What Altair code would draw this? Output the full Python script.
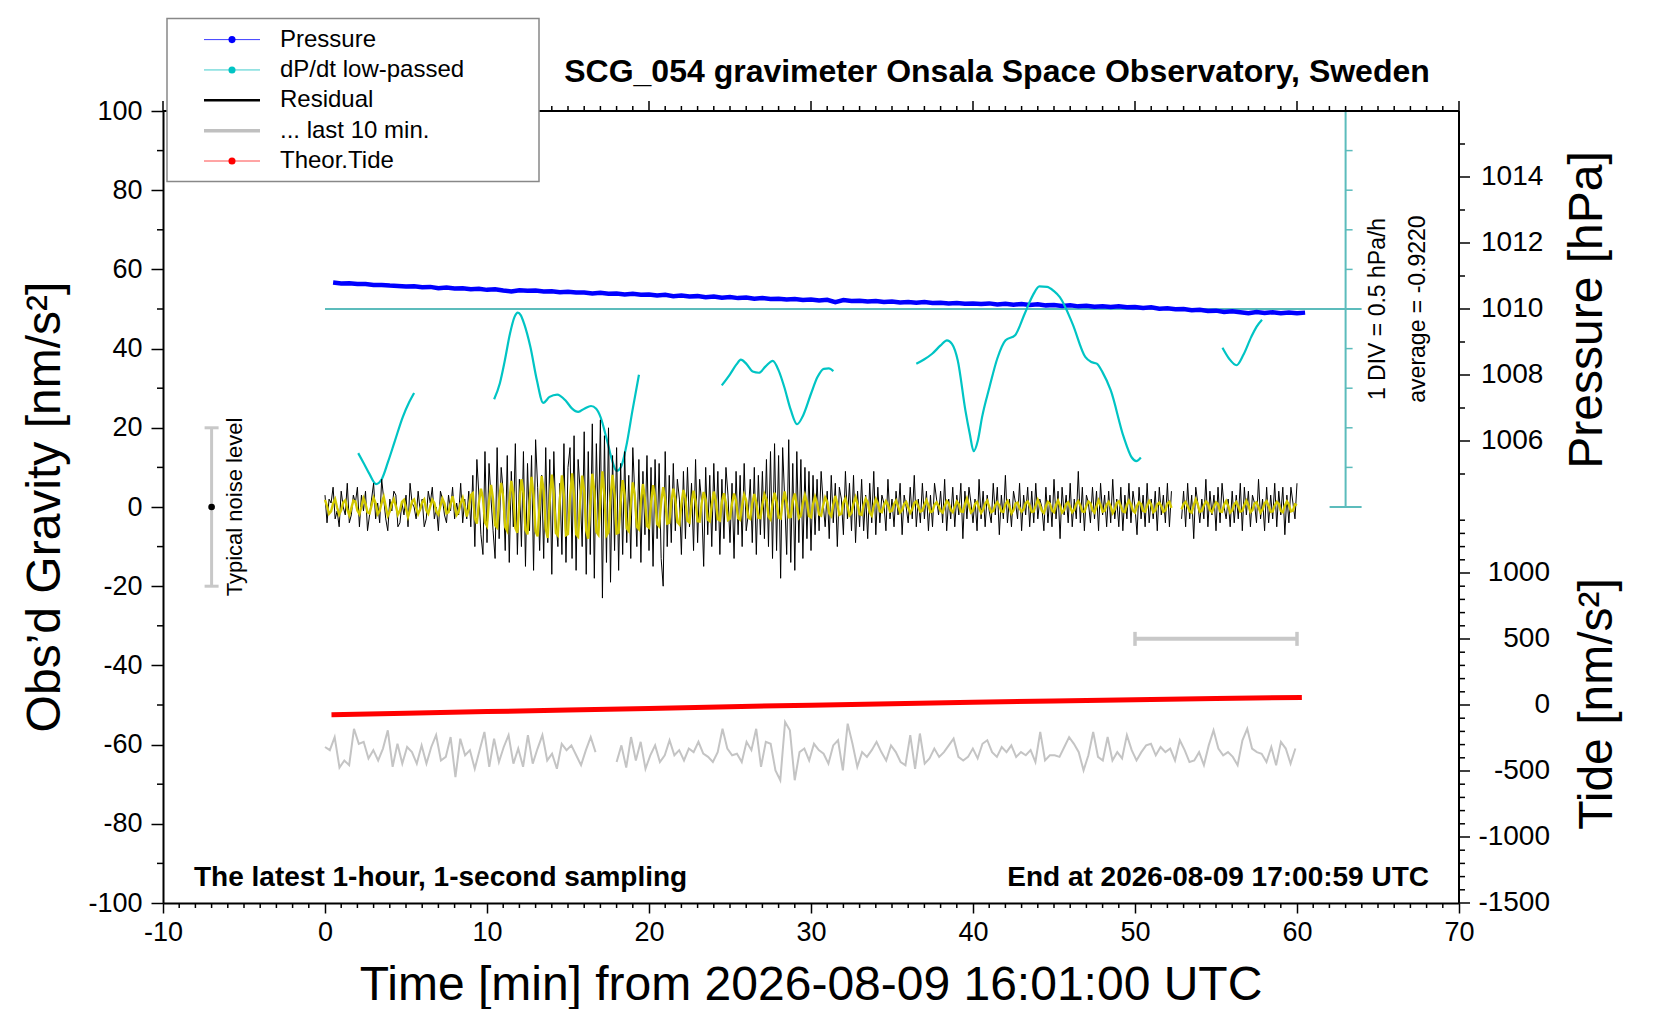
import altair as alt
import numpy as np
import pandas as pd

FONT = "Liberation Sans"
W, H = 1296, 792  # plot area

# ---- values ----
# residual gravity (nm/s^2), one value every 0.125 min from 0 to 60 min (None = gap)
resid = [
    3, -4, 2, 1, 5, -3, -1, -5, 4, 0, -2, 6, -4, -2, 3, 1, 5, -5, 3, -1, 4, -6, -2, 2,
    6, -3, 1, -4, 7, 2, -3, -6, 2, -1, 4, 3, -5, -4, 1, -2, 3, -5, 6, 1, 0, -3, 4, -1,
    2, -5, -3, 4, 1, 5, -3, 0, -6, 4, 2, -2, -4, 3, -1, 5, -3, 1, -2, 6, -4, 2, -3, 4, -5,
    8, -10, 12, 3, -7, -12, 14, -9, 11, 2, -6, -13, 15, -8, 10, 4, -11, 13, -14, 9, -5, 16, -12, 7,
    -10, 14, -15, 11, -6, 13, -16, 17, 5, -11, 8, -13, 15, -9, 12, -17, 14, -3, -10, 6, -12, 16, -14, 10,
    15, -13, 18, -16, 12, 4, -10, 19, -17, 14, -12, 21, -18, 16, -6, 22, -23, 18, -14, 20, -19, 13, -11, 15,
    -16, 11, -12, 14, -9, 8, -13, 15, 3, -10, 12, -14, 9, -7, 13, -11, 10, -15, 12, -8, 11, -13, -20, 14,
    -10, 8, -9, 11, -6, 7, 2, -12, 9, -8, 10, -5, 6, -11, 12, -9, 7, 1, -15, 10, -7, 8, -10, 11,
    -6, 9, -12, 7, -8, 10, 3, -9, 6, -13, 9, -7, 8, -10, 11, -6, -2, 7, -9, 10, -12, 8, -7, 9,
    -8, 12, -10, 14, -13, 16, -11, 13, -18, 15, 2, -12, 17, -14, 11, -16, 14, -9, 12, -13, 10, -8, 9, -11,
    8, -7, 7, -6, 9, 1, -5, 4, -8, 8, -4, 6, -10, 5, 2, -7, 9, -3, 6, -6, 8, -9, 4, -5, 7, -6, 3, -8, 6, -4, 9, -7,
    5, -4, 3, 1, -6, 7, -3, 2, -5, 4, -2, 6, -7, 3, 0, -4, 5, -3, 8, -5, 2, -4, 6, -3,
    4, -6, 3, -5, 6, 2, -2, 4, -4, 7, -6, 2, -3, 5, -5, 3, -2, 6, -8, 4, -3, 5, 1, -4,
    2, -6, 7, -3, 4, -5, 3, -1, -4, 6, -2, 5, -7, 3, -3, 8, -4, 2, -5, 4, 1, -3, 6, -6,
    3, -2, 5, -5, 4, -4, 6, -3, 2, 0, -6, 5, -4, 3, -5, 7, -3, 4, -8, 5, -2, 3, -4, 6,
    -5, 2, -3, 9, -4, 5, -6, 3, 1, -4, 5, -3, 4, -6, 6, -2, 3, -5, 4, -4, 7, -3, 2, -5,
    5, -6, 3, -3, 6, -4, 4, 0, -7, 5, -3, 3, -5, 6, -4, 2, -3, 4, -6, 5, -2, 3, -4, 6, -5, 4,
    None, None, None, None,
    -3, 4, -5, 6, -3, 3, -8, 5, 1, -4, 2, -3, 7, -5, 4, -2, 3, -6, 5, -4, 6, 0, -3, 2,
    -5, 4, -4, 3, -3, 6, -6, 5, -2, 4, -5, 3, 1, -4, 7, -3, 2, -6, 5, -4, 3, -3, 6, -5,
    4, -2, 5, -7, 3, -4, 5, 1, -3, 6,
]
# band-passed residual (yellow), same sampling
resid_bp = [
    1.8, 0.2, -1.7, -1.1, 0.9, 2.0, -0.2, -1.9, -0.8, 1.2, 1.7, -0.6, -2.1, -0.3, 1.6, 1.4, -0.9, -1.8, 0.1, 2.2, 0.8, -1.3, -1.6, 0.4,
    2.3, 0.9, -1.8, -1.0, 1.1, 2.6, 0.1, -2.2, -1.1, 0.9, 2.0, 0.2, -1.9, -0.9, 1.3, 1.8, -0.4, -2.5, -0.7, 1.4, 1.9, -0.2, -1.8, -0.6,
    1.2, 1.9, -0.8, -1.7, 0.2, 1.8, 1.0, -1.2, -1.9, 0.3, 2.1, 0.9, -1.6, -1.3, 0.8, 2.7, 0.4, -2.0, -1.2, 1.0, 2.3, 0.1, -2.4, -0.5, 3.0,
    3.5, -2.8, -4.2, 1.0, 4.6, 2.2, -3.9, -4.8, 1.5, 5.6, 2.0, -4.6, -5.2, 1.9, 6.1, 2.5, -5.0, -6.0, 1.2, 6.6, 3.4, -5.3, -6.5, 0.8,
    7.0, 3.5, -5.8, -6.9, 1.5, 7.6, 3.0, -6.2, -7.4, 0.9, 7.8, 4.1, -5.5, -7.8, 1.7, 8.2, 3.3, -6.6, -7.2, 2.0, 8.0, 2.8, -7.1, -6.8,
    2.4, 8.5, 2.6, -6.9, -7.5, 1.3, 7.9, 3.9, -6.0, -8.0, 0.6, 8.4, 4.0, -6.3, -7.0, 1.8, 9.0, 2.9, -7.2, -6.4, 2.5, 8.1, 3.1, -6.7,
    -6.5, 1.2, 6.8, 3.0, -5.4, -6.1, 0.8, 6.2, 2.7, -5.0, -5.6, 1.4, 5.8, 2.1, -4.8, -5.2, 0.9, 5.5, 2.4, -4.3, -4.9, 1.1, 5.0, 1.8,
    -4.2, -4.0, 1.3, 4.6, 1.9, -3.8, -4.4, 0.7, 4.3, 2.2, -3.5, -3.9, 1.0, 4.1, 1.5, -3.6, -3.7, 0.9, 3.8, 1.8, -3.2, -3.6, 0.5, 3.9,
    1.6, -3.1, -3.4, 1.2, 3.5, 1.0, -3.3, -2.9, 0.8, 3.4, 1.5, -2.8, -3.2, 0.4, 3.1, 1.7, -2.6, -3.0, 0.9, 3.3, 1.1, -2.7, -2.8, 0.6,
    3.2, 1.9, -2.4, -3.1, 0.8, 3.6, 1.4, -2.7, -2.9, 1.2, 3.9, 0.9, -2.6, -2.5, 1.5, 3.4, 0.3, -2.8, -2.2, 1.0, 3.0, 1.2, -2.3, -2.6,
    0.7, 2.6, 1.0, -1.9, -2.2, 0.4, 2.4, 1.3, -1.6, -2.3, 0.6, 2.8, 0.8, -2.0, -1.7, 1.1, 2.2, 0.2, -2.1, -1.5, 0.9, 2.5, 0.7, -1.8, -2.0, 0.5, 2.1, 1.2, -1.4, -2.2, 0.3, 2.0,
    0.9, -1.1, -1.3, 0.4, 1.5, 0.6, -1.2, -1.0, 0.7, 1.6, 0.2, -1.4, -0.8, 0.8, 1.3, -0.1, -1.5, -0.6, 1.0, 1.4, 0.1, -1.2, -0.9, 0.5,
    1.7, 0.4, -1.3, -1.1, 0.6, 1.2, 0.3, -1.0, -1.4, 0.2, 1.5, 0.9, -0.8, -1.3, 0.1, 1.4, 0.7, -1.1, -1.2, 0.6, 2.1, 0.5, -1.4, -0.9,
    0.8, 1.3, -0.2, -1.5, -0.7, 0.9, 1.6, 0.1, -1.3, -1.0, 0.5, 1.2, 0.4, -1.1, -1.2, 0.7, 1.5, 0.2, -1.6, -0.8, 0.9, 1.1, -0.3, -1.2,
    -0.6, 1.0, 1.4, 0.3, -1.2, -1.1, 0.4, 1.8, 0.6, -1.0, -1.5, 0.2, 1.3, 0.8, -0.9, -1.3, 0.5, 1.6, 0.3, -1.4, -0.8, 0.7, 1.2, -0.1,
    -1.3, -0.7, 0.8, 1.5, 0.4, -1.1, -1.2, 0.3, 1.4, 0.9, -0.8, -1.4, 0.2, 1.7, 0.5, -1.2, -1.0, 0.6, 1.3, 0.1, -1.5, -0.6, 1.0, 1.4,
    0.2, -1.1, -1.3, 0.5, 1.6, 0.7, -0.9, -1.4, 0.3, 1.2, 0.8, -1.0, -1.2, 0.4, 1.5, 0.6, -1.3, -0.9, 0.7, 1.1, 0.2, -1.2, -0.8, 0.9, 1.3, -0.2,
    None, None, None, None,
    -0.6, 0.8, 1.3, 0.2, -1.1, -1.4, 0.5, 1.9, 0.6, -1.2, -1.0, 0.4, 1.4, 0.9, -0.8, -1.3, 0.1, 1.2, 0.7, -1.1, -1.2, 0.6, 1.5, 0.3, -1.4,
    -0.9, 0.7, 1.3, 0.2, -1.2, -1.0, 0.5, 1.6, 0.4, -1.3, -0.8, 0.9, 1.2, -0.1, -1.4, -0.6, 1.0, 1.5, 0.2, -1.2, -1.1, 0.4, 1.3, 0.8,
    -1.0, -1.3, 0.3, 1.4, 0.6, -1.1, -0.9, 0.7, 0.5,
]
SAMPLE_MIN = 0.125

# "... last 10 min." trace, stretched over the hour (plot units)
last10_a = [
    -60.6, -61.4, -58.1, -65.8, -64.0, -65.2, -56.0, -59.8, -59.3, -63.5,
    -61.4, -64.0, -61.0, -56.4, -65.6, -59.8, -64.8, -60.6, -61.9, -64.8,
    -60.2, -64.8, -60.6, -57.6, -64.0, -63.1, -58.1, -68.2, -58.5, -62.7,
    -61.4, -66.1, -61.4, -56.8, -65.6, -58.5, -64.4, -60.6, -57.6, -64.8,
    -61.0, -65.6, -57.6, -64.8, -61.0, -57.6, -64.0, -62.3, -66.1, -59.8,
    -61.4, -60.2, -62.7, -65.2, -61.4, -58.1, -61.9,
]
last10_b = [
    -64.4, -60.2, -65.8, -58.1, -64.0, -59.3, -66.1, -62.7, -60.2, -64.4,
    -62.7, -58.9, -62.7, -61.4, -64.0, -61.0, -61.9, -59.3, -62.3, -63.1,
    -64.4, -61.9, -56.0, -61.0, -62.7, -62.3, -64.4, -59.3, -61.4, -56.0,
    -65.6, -59.3, -59.8, -66.5, -69.0, -54.3, -56.4, -69.0, -61.9, -61.0,
    -64.0, -59.8, -61.4, -62.3, -64.8, -60.2, -58.9, -66.5, -54.7, -59.8,
    -65.6, -61.9, -63.1, -61.4, -59.3, -61.9, -64.0, -60.2, -61.9, -64.4,
    -65.2, -57.6, -66.1, -57.2, -64.8, -63.5, -61.0, -63.1, -61.9, -60.2,
    -58.5, -63.1, -64.0, -63.1, -61.0, -63.5, -59.8, -58.9, -61.9, -63.1,
    -60.6, -61.9, -60.2, -63.1, -61.9, -62.7, -61.4, -64.4, -56.8, -64.0,
    -62.7, -62.7, -63.1, -60.6, -58.1, -59.8, -61.9, -66.5, -62.7, -56.8,
    -63.1, -64.0, -58.1, -64.0, -61.9, -63.5, -57.6, -61.4, -64.0, -61.9,
    -60.2, -59.8, -62.7, -60.6, -61.9, -61.0, -64.0, -58.9, -61.4, -64.4,
    -64.0, -61.9, -65.2, -60.2, -56.4, -61.0, -62.7, -61.9, -63.1, -65.2,
    -58.9, -56.0, -61.0, -61.9, -62.3, -64.4, -60.6, -65.2, -59.3, -61.0,
    -64.8, -61.0,
]
last10_span_a = [0.0, 16.7]
last10_span_b = [18.0, 59.9]

# air pressure (hPa), every 0.5 min from 0.5 min
pressure = [
    1010.80, 1010.77, 1010.78, 1010.76, 1010.76, 1010.73, 1010.73, 1010.71, 1010.70, 1010.68,
    1010.69, 1010.66, 1010.67, 1010.63, 1010.65, 1010.62, 1010.63, 1010.60, 1010.61, 1010.58,
    1010.60, 1010.56, 1010.53, 1010.57, 1010.55, 1010.56, 1010.53, 1010.54, 1010.51, 1010.52,
    1010.50, 1010.50, 1010.47, 1010.49, 1010.46, 1010.47, 1010.44, 1010.46, 1010.43, 1010.44,
    1010.41, 1010.43, 1010.39, 1010.41, 1010.38, 1010.39, 1010.36, 1010.38, 1010.34, 1010.36,
    1010.33, 1010.35, 1010.31, 1010.33, 1010.30, 1010.31, 1010.29, 1010.30, 1010.27, 1010.29,
    1010.26, 1010.28, 1010.21, 1010.27, 1010.24, 1010.25, 1010.23, 1010.24, 1010.21, 1010.23,
    1010.20, 1010.21, 1010.19, 1010.21, 1010.18, 1010.19, 1010.17, 1010.18, 1010.16, 1010.17,
    1010.15, 1010.17, 1010.14, 1010.16, 1010.13, 1010.15, 1010.12, 1010.14, 1010.11, 1010.12,
    1010.09, 1010.11, 1010.08, 1010.10, 1010.07, 1010.08, 1010.06, 1010.08, 1010.05, 1010.06,
    1010.03, 1010.05, 1010.01, 1010.02, 1009.99, 1010.00, 1009.96, 1009.98, 1009.94, 1009.95,
    1009.91, 1009.93, 1009.90, 1009.87, 1009.91, 1009.88, 1009.90, 1009.87, 1009.89, 1009.87,
    1009.89,
]

# theoretical tide (nm/s^2)
tide_t = [0.4, 5, 10, 15, 20, 25, 30, 35, 40, 45, 50, 55, 60.3]
tide_v = [-73, -62, -50, -38, -26, -13, -1, 10, 21, 31, 40, 49, 57]

# dP/dt low-passed (hPa/h), pieces
dpdt_t = [
    [2.05, 2.4, 2.75, 3.15, 3.5, 3.9, 4.3, 4.8, 5.2, 5.5],
    [10.44, 10.79, 11.10, 11.42, 11.70, 11.90, 12.09, 12.29, 12.68, 13.08, 13.47, 13.86, 14.33, 14.85,
     15.24, 15.63, 16.03, 16.42, 16.74, 17.01, 17.41, 17.72, 18.00, 18.27, 18.59, 18.98, 19.38],
    [24.49, 25.0, 25.4, 25.67, 26.0, 26.4, 26.78, 27.2, 27.64, 28.0, 28.35, 28.75, 29.14, 29.5, 30.0,
     30.4, 30.79, 31.1, 31.38],
    [36.5, 37.0, 37.48, 38.0, 38.39, 38.7, 39.06, 39.53, 39.8, 40.04, 40.3, 40.56, 41.02, 41.5, 42.01,
     42.6, 43.19, 43.7, 44.1, 44.57, 45.0, 45.36, 46.14, 46.93, 47.3, 47.64, 48.0, 48.5, 49.3, 49.8,
     50.08, 50.36],
    [55.4, 55.8, 56.27, 56.7, 57.17, 57.5, 57.84],
]
dpdt_v = [
    [-1.82, -1.95, -2.085, -2.21, -2.15, -1.925, -1.675, -1.365, -1.175, -1.06],
    [-1.14, -0.94, -0.65, -0.31, -0.10, -0.045, -0.08, -0.185, -0.48, -0.90, -1.185, -1.11, -1.08, -1.155,
     -1.255, -1.30, -1.255, -1.225, -1.26, -1.365, -1.66, -1.91, -2.045, -1.995, -1.74, -1.28, -0.83],
    [-0.965, -0.825, -0.70, -0.64, -0.69, -0.79, -0.805, -0.725, -0.655, -0.775, -0.985, -1.275, -1.455,
     -1.35, -1.07, -0.86, -0.755, -0.75, -0.785],
    [-0.69, -0.635, -0.565, -0.46, -0.395, -0.44, -0.65, -1.28, -1.575, -1.795, -1.66, -1.365, -0.985,
     -0.625, -0.395, -0.33, -0.06, 0.175, 0.285, 0.28, 0.225, 0.15, -0.185, -0.605, -0.67, -0.69, -0.80,
     -1.025, -1.615, -1.875, -1.92, -1.875],
    [-0.49, -0.625, -0.71, -0.575, -0.355, -0.225, -0.135],
]
dpdt_avg = -0.9220

# axes of the secondary quantities
P_DOM = [992, 1016]
TIDE_DOM = [-1500, 4500]
p_major = [1006, 1008, 1010, 1012, 1014]
p_minor = [1005, 1007, 1009, 1011, 1013, 1015]
tide_major = [-1500, -1000, -500, 0, 500, 1000]
tide_minor = [v for v in range(-1400, 1500, 100) if v % 500 != 0]

# reference marks
noise_t, noise_half = -7.0, 20
bar10_t, bar10_g = [50, 60], -33.3
div_t = 63.0            # dP/dt scale bar position (min)
DIV_HPA, DIV_G = 0.5, 10  # 1 DIV = 0.5 hPa/h = 10 plot units


def to_g(v, dom):
    return -100 + (np.asarray(v, dtype=float) - dom[0]) * 200.0 / (dom[1] - dom[0])


P0_G = float(to_g(1010, P_DOM))


def dpdt_to_g(v):
    return P0_G + np.asarray(v, dtype=float) / DIV_HPA * DIV_G


# ---- tables ----
t_res = np.arange(len(resid)) * SAMPLE_MIN
res = pd.DataFrame({"t": t_res, "g": resid, "bp": resid_bp})
res["seg"] = (res["t"] > 52.5).astype(int)
res_k = res.dropna(subset=["g"])
res_y = res.dropna(subset=["bp"])

gray = pd.concat([
    pd.DataFrame({"t": np.linspace(*last10_span_a, len(last10_a)), "g": last10_a, "seg": 0}),
    pd.DataFrame({"t": np.linspace(*last10_span_b, len(last10_b)), "g": last10_b, "seg": 1}),
])

pres = pd.DataFrame({"t": 0.5 + 0.5 * np.arange(len(pressure)), "p": pressure})
pres["g"] = to_g(pres["p"], P_DOM)

tide = pd.DataFrame({"t": tide_t, "v": tide_v})
tide["g"] = to_g(tide["v"], TIDE_DOM)

dp = pd.concat([pd.DataFrame({"t": tt, "d": vv, "seg": i}) for i, (tt, vv) in enumerate(zip(dpdt_t, dpdt_v))])
dp["g"] = dpdt_to_g(dp["d"])

one = pd.DataFrame({"k": [0]})

# ---- scales / axes ----
xs = alt.Scale(domain=[-10, 70], nice=False, zero=False)
ys = alt.Scale(domain=[-100, 100], nice=False, zero=False)
ax_common = dict(grid=False, title=None, domainColor="black", domainWidth=2, tickColor="black",
                 tickWidth=1.5, labelFont=FONT, labelColor="black", labelFlush=False,
                 labelExpr="'' + datum.value")
x_axis = alt.Axis(values=list(range(-10, 71, 10)), tickSize=10, labelFontSize=27, labelPadding=6, **ax_common)
y_axis = alt.Axis(values=list(range(-100, 101, 20)), tickSize=12, labelFontSize=27, labelPadding=9, **ax_common)


def X(f):
    return alt.X(f, type="quantitative", scale=xs, axis=x_axis)


def Y(f):
    return alt.Y(f, type="quantitative", scale=ys, axis=y_axis)


def label(txt, x, y, size, weight="normal", angle=0, align="center", baseline="middle"):
    return alt.Chart(one).mark_text(
        text=txt, font=FONT, fontSize=size, fontWeight=weight, angle=angle,
        align=align, baseline=baseline, color="black"
    ).encode(x=alt.value(x), y=alt.value(y))


CY_SCALE = "#5cbcbc"
layers = []

# dP/dt zero line and scale bar
zero_df = pd.DataFrame({"a": [0.0], "b": [div_t], "g": [P0_G]})
layers.append(alt.Chart(zero_df).mark_rule(color=CY_SCALE, strokeWidth=2, x2Offset=16).encode(
    x=X("a"), x2=alt.X2("b"), y=Y("g")))
bar_df = pd.DataFrame({"t": [div_t], "g0": [float(dpdt_to_g(-2.5))], "g1": [float(dpdt_to_g(2.5))]})
layers.append(alt.Chart(bar_df).mark_rule(color=CY_SCALE, strokeWidth=2).encode(
    x=X("t"), y=Y("g0"), y2=alt.Y2("g1")))
div_ticks = pd.DataFrame({"d": [-2.0, -1.5, -1.0, -0.5, 0.5, 1.0, 1.5, 2.0]})
div_ticks["g"] = dpdt_to_g(div_ticks["d"])
div_ticks["t"] = div_t
layers.append(alt.Chart(div_ticks).mark_rule(color=CY_SCALE, strokeWidth=1.5, x2Offset=7).encode(
    x=X("t"), x2=alt.X2("t"), y=Y("g")))
div_ends = pd.DataFrame({"d": [-2.5, 2.5]})
div_ends["g"] = dpdt_to_g(div_ends["d"])
div_ends["t"] = div_t
layers.append(alt.Chart(div_ends).mark_rule(color=CY_SCALE, strokeWidth=2, xOffset=-16, x2Offset=16).encode(
    x=X("t"), x2=alt.X2("t"), y=Y("g")))

# data series
layers.append(alt.Chart(pres).mark_line(color="#0000ff", strokeWidth=4.5).encode(x=X("t"), y=Y("g")))
layers.append(alt.Chart(dp).mark_line(color="#00c4c4", strokeWidth=2.2, interpolate="monotone").encode(
    x=X("t"), y=Y("g"), detail="seg:N"))
layers.append(alt.Chart(res_k).mark_line(color="black", strokeWidth=1).encode(
    x=X("t"), y=Y("g"), detail="seg:N"))
layers.append(alt.Chart(res_y).mark_line(color="#d2c800", strokeWidth=2.4).encode(
    x=X("t"), y=Y("bp"), detail="seg:N"))
layers.append(alt.Chart(gray).mark_line(color="#c4c4c4", strokeWidth=2).encode(
    x=X("t"), y=Y("g"), detail="seg:N"))
layers.append(alt.Chart(tide).mark_line(color="#ff0000", strokeWidth=5).encode(x=X("t"), y=Y("g")))

# typical noise level
noise_df = pd.DataFrame({"t": [noise_t], "g0": [-noise_half], "g1": [noise_half]})
layers.append(alt.Chart(noise_df).mark_rule(color="#c8c8c8", strokeWidth=3).encode(
    x=X("t"), y=Y("g0"), y2=alt.Y2("g1")))
caps_df = pd.DataFrame({"t": [noise_t, noise_t], "g": [-noise_half, noise_half]})
layers.append(alt.Chart(caps_df).mark_rule(color="#c8c8c8", strokeWidth=3, xOffset=-7, x2Offset=7).encode(
    x=X("t"), x2=alt.X2("t"), y=Y("g")))
layers.append(alt.Chart(pd.DataFrame({"t": [noise_t], "g": [0]})).mark_point(
    filled=True, size=45, color="black", opacity=1).encode(x=X("t"), y=Y("g")))

# 10-min reference bar
b10 = pd.DataFrame({"a": [bar10_t[0]], "b": [bar10_t[1]], "g": [bar10_g]})
layers.append(alt.Chart(b10).mark_rule(color="#c8c8c8", strokeWidth=4).encode(
    x=X("a"), x2=alt.X2("b"), y=Y("g")))
b10c = pd.DataFrame({"t": bar10_t, "g": [bar10_g, bar10_g]})
layers.append(alt.Chart(b10c).mark_rule(color="#c8c8c8", strokeWidth=3.5, yOffset=-7, y2Offset=7).encode(
    x=X("t"), y=Y("g"), y2=alt.Y2("g")))

# frame and minor ticks
layers.append(alt.Chart(pd.DataFrame({"a": [-10], "b": [70], "g": [100]})).mark_rule(
    color="black", strokeWidth=2).encode(x=X("a"), x2=alt.X2("b"), y=Y("g")))
layers.append(alt.Chart(pd.DataFrame({"t": [70], "g0": [-100], "g1": [100]})).mark_rule(
    color="black", strokeWidth=2).encode(x=X("t"), y=Y("g0"), y2=alt.Y2("g1")))
left_minor = pd.DataFrame({"g": list(range(-90, 100, 20)), "e": -10})
layers.append(alt.Chart(left_minor).mark_rule(color="black", strokeWidth=1.5, xOffset=-6).encode(
    x=X("e"), x2=alt.X2("e"), y=Y("g")))
minutes = list(range(-10, 71))
bot_minor = pd.DataFrame({"t": [m for m in minutes if m % 10], "e": -100})
layers.append(alt.Chart(bot_minor).mark_rule(color="black", strokeWidth=1.5, y2Offset=5).encode(
    x=X("t"), y=Y("e"), y2=alt.Y2("e")))
top_minor = pd.DataFrame({"t": [m for m in minutes if m % 10], "e": 100})
layers.append(alt.Chart(top_minor).mark_rule(color="black", strokeWidth=1.5, y2Offset=-5).encode(
    x=X("t"), y=Y("e"), y2=alt.Y2("e")))
top_major = pd.DataFrame({"t": [m for m in minutes if m % 10 == 0], "e": 100})
layers.append(alt.Chart(top_major).mark_rule(color="black", strokeWidth=1.5, y2Offset=-10).encode(
    x=X("t"), y=Y("e"), y2=alt.Y2("e")))

# right axes: pressure and tide
for vals, dom, ln in [(p_major, P_DOM, 11), (p_minor, P_DOM, 6), (tide_major, TIDE_DOM, 11), (tide_minor, TIDE_DOM, 6)]:
    tk = pd.DataFrame({"g": to_g(vals, dom), "e": 70})
    layers.append(alt.Chart(tk).mark_rule(color="black", strokeWidth=1.5, x2Offset=ln).encode(
        x=X("e"), x2=alt.X2("e"), y=Y("g")))
p_lab = pd.DataFrame({"lab": [str(v) for v in p_major], "g": to_g(p_major, P_DOM), "e": 70})
layers.append(alt.Chart(p_lab).mark_text(align="left", baseline="middle", dx=22, font=FONT, fontSize=28,
                                         color="black").encode(x=X("e"), y=Y("g"), text="lab:N"))
t_lab = pd.DataFrame({"lab": [str(v) for v in tide_major], "g": to_g(tide_major, TIDE_DOM), "e": 70})
layers.append(alt.Chart(t_lab).mark_text(align="right", baseline="middle", dx=91, font=FONT, fontSize=28,
                                         color="black").encode(x=X("e"), y=Y("g"), text="lab:N"))

# texts
layers += [
    label("SCG_054 gravimeter Onsala Space Observatory, Sweden", 834, -29.5, 32, "bold", baseline="alphabetic"),
    label("The latest 1-hour, 1-second sampling", 31, 775, 28, "bold", align="left", baseline="alphabetic"),
    label("End at 2026-08-09 17:00:59 UTC", 1266, 775, 28, "bold", align="right", baseline="alphabetic"),
    label("Time [min] from 2026-08-09 16:01:00 UTC", 648, 889, 48, baseline="alphabetic"),
    label("Obs’d Gravity [nm/s²]", -103, 396, 48, angle=270, baseline="alphabetic"),
    label("Pressure [hPa]", 1439, 199, 48, angle=270, baseline="alphabetic"),
    label("Tide [nm/s²]", 1449, 593, 48, angle=270, baseline="alphabetic"),
    label("Typical noise level", 79, 396, 22, angle=270, baseline="alphabetic"),
    label("1 DIV = 0.5 hPa/h", 1222, 198, 23, angle=270, baseline="alphabetic"),
    label(f"average = {dpdt_avg:.4f}", 1262, 198, 23, angle=270, baseline="alphabetic"),
]

# legend box
layers.append(alt.Chart(one).mark_rect(fill="white", stroke="#888888", strokeWidth=1.5).encode(
    x=alt.value(4), x2=alt.value(376), y=alt.value(-92.5), y2=alt.value(70.5)))
legend_items = [
    ("Pressure", "#3c3cff", 1, "#0000ff"),
    ("dP/dt low-passed", "#40cccc", 1, "#00c4c4"),
    ("Residual", "black", 2.5, None),
    ("... last 10 min.", "#c0c0c0", 3.5, None),
    ("Theor.Tide", "#ff4a4a", 1, "#ff0000"),
]
for i, (name, lc, lw, dc) in enumerate(legend_items):
    yy = -71.4 + i * 30.35
    layers.append(alt.Chart(one).mark_rule(color=lc, strokeWidth=lw).encode(
        x=alt.value(41), x2=alt.value(97), y=alt.value(yy)))
    if dc:
        layers.append(alt.Chart(one).mark_point(filled=True, size=50, color=dc, opacity=1).encode(
            x=alt.value(69), y=alt.value(yy)))
    layers.append(label(name, 117, yy, 24, align="left"))

chart = alt.layer(*layers).properties(
    width=W, height=H,
    autosize=alt.AutoSizeParams(type="none"),
    padding={"left": 155, "top": 103, "right": 180, "bottom": 106},
    background="white",
).configure_view(strokeWidth=0)

chart.save("out.html", embed_options={"renderer": "svg", "actions": False})
